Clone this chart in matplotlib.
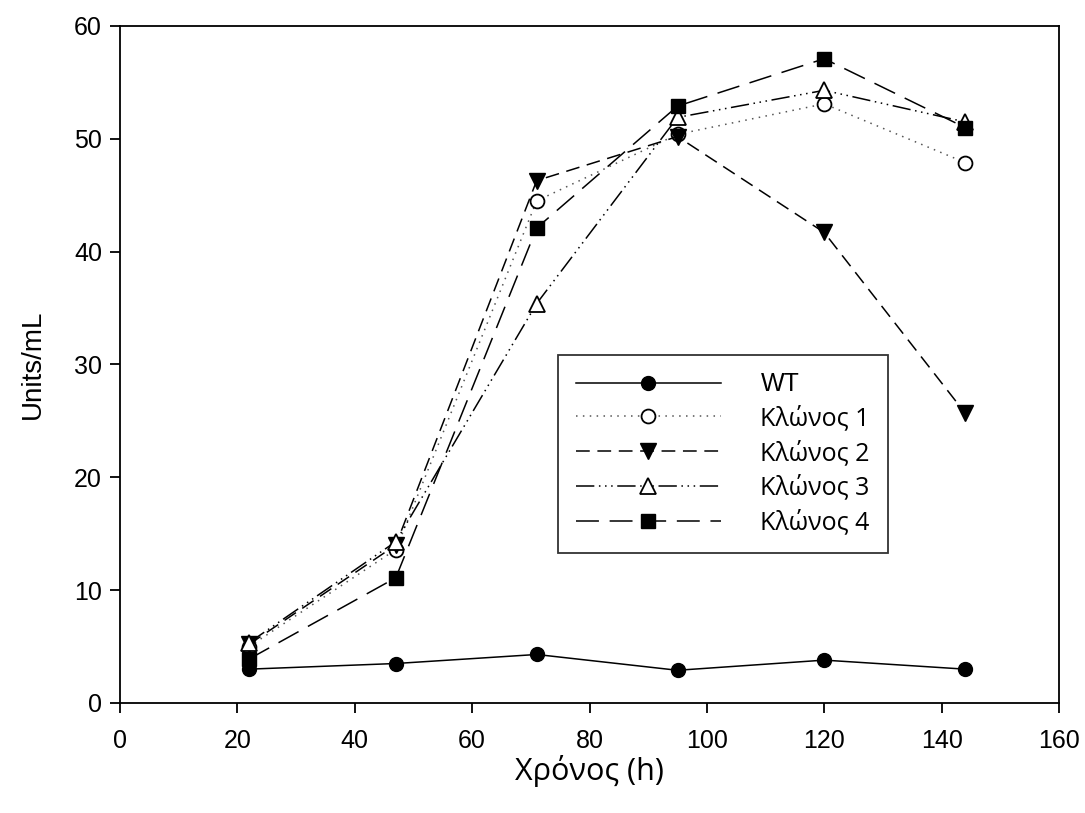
import matplotlib
matplotlib.use("Agg")
import matplotlib.pyplot as plt

plt.rcParams['font.family'] = ['Liberation Sans', 'DejaVu Sans']

# time points (h)
hours = [22, 47, 71, 95, 120, 144]

# enzyme activity, Units/mL
wt = [3.0, 3.5, 4.3, 2.9, 3.8, 3.0]
klonos1 = [5.0, 13.6, 44.5, 50.4, 53.1, 47.9]
klonos2 = [5.2, 14.0, 46.3, 50.2, 41.7, 25.7]
klonos3 = [5.35, 14.3, 35.4, 51.9, 54.3, 51.5]
klonos4 = [3.9, 11.1, 42.1, 52.9, 57.1, 51.0]

labels = ['WT', 'Κλώνος 1', 'Κλώνος 2', 'Κλώνος 3', 'Κλώνος 4']

fig = plt.figure(figsize=(10.85, 8.13), dpi=100)
ax = fig.add_axes([120 / 1085, 1 - 703 / 813, 939 / 1085, 677 / 813])

ms = 10
lw = 1.1

# WT - solid, filled circle
ax.plot(hours, wt, color='black', lw=lw, linestyle='-', marker='o', ms=ms,
        mfc='black', mec='black', label=labels[0], zorder=3)
# Clone 1 - dotted, open circle
ax.plot(hours, klonos1, color='#555555', lw=lw, linestyle=(0, (1, 3.5)), marker='o', ms=ms,
        mfc='white', mec='black', mew=1.3, label=labels[1], zorder=3)
# Clone 2 - short dashes, filled down triangle
ax.plot(hours, klonos2, color='black', lw=lw, linestyle=(0, (9, 5)), marker='v', ms=ms + 1,
        mfc='black', mec='black', label=labels[2], zorder=3)
# Clone 3 - dash dot dot, open up triangle
ax.plot(hours, klonos3, color='black', lw=lw, linestyle=(0, (12, 3, 1, 3, 1, 3, 1, 3)),
        marker='^', ms=ms + 1, mfc='white', mec='black', mew=1.3, label=labels[3], zorder=3)
# Clone 4 - long dashes, filled square
ax.plot(hours, klonos4, color='black', lw=lw, linestyle=(0, (15, 7)), marker='s', ms=ms - 0.5,
        mfc='black', mec='black', label=labels[4], zorder=3)

ax.set_xlim(0, 160)
ax.set_ylim(0, 60)
ax.set_xticks(range(0, 161, 20))
ax.set_yticks(range(0, 61, 10))

for sp in ax.spines.values():
    sp.set_linewidth(1.3)
ax.tick_params(axis='both', which='both', direction='out', length=7, width=1.3,
               labelsize=18, top=False, right=False)
ax.tick_params(axis='x', pad=12)
ax.tick_params(axis='y', pad=6)

ax.set_xlabel('Χρόνος (h)', fontsize=22, labelpad=1, family=['Open Sans', 'DejaVu Sans'])
ax.set_ylabel('Units/mL', fontsize=20, labelpad=20)

leg = ax.legend(loc='upper left', bbox_to_anchor=((558 - 120) / 939, (703 - 355) / 677),
                borderaxespad=0, frameon=True, fancybox=False, fontsize=18,
                handlelength=5.8, handletextpad=1.6, labelspacing=0.36,
                borderpad=0.7, numpoints=1)
leg.get_frame().set_edgecolor('black')
leg.get_frame().set_linewidth(1.3)
for t in leg.get_texts()[1:]:
    t.set_family(['Open Sans', 'DejaVu Sans'])

fig.savefig('out.png', dpi=100)
